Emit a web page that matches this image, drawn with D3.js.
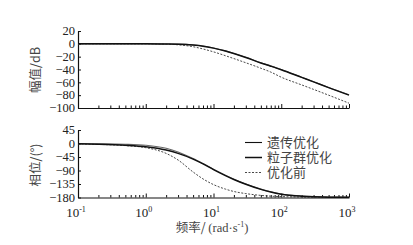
<!DOCTYPE html>
<html>
<head>
<meta charset="utf-8">
<script src="https://cdn.jsdelivr.net/npm/d3@7"></script>
<style>
  body { margin: 0; background: #fff; }
  svg text { fill: #222; }
  .axis path, .axis line { stroke: #111; }
</style>
</head>
<body>
<div id="visualization"></div>
<script>
// frequency points (rad/s)
var freq = [0.1, 0.2, 0.5, 1, 2, 3, 5, 7, 10, 15, 20, 30, 50, 70, 100, 200, 300, 500, 1000];

// magnitude (dB)
var magGA     = [0, 0, 0, 0, -0.2, -0.5, -1.8, -3.5, -6.5, -11, -15, -21, -29.5, -34.5, -40, -52, -59, -68, -79.5];
var magPSO    = [0, 0, 0, 0, -0.2, -0.5, -1.9, -3.6, -6.7, -11.2, -15.2, -21.3, -29.8, -34.8, -40.3, -52.3, -59.3, -68.3, -80];
var magBefore = [0, 0, 0, 0, -0.5, -1.5, -4.5, -8, -12.5, -18.5, -23, -29.5, -38, -44, -52, -64, -71, -80, -92.5];

// phase (deg)
var phGA     = [-0.5, -1, -2.5, -6, -16, -28, -50, -67, -86, -106, -119, -135, -152, -161, -168.5, -175, -177, -178.5, -179.5];
var phPSO    = [-1, -2.5, -6, -11, -22, -33, -52, -68, -87, -107, -120, -136, -153, -162, -169, -175.5, -177.5, -179, -179.5];
var phBefore = [-1.5, -3, -7, -14, -33, -55, -95, -118, -137, -152, -160, -167, -173, -175.5, -177, -178.5, -179, -179.5, -180];

var magTicks = [20, 0, -20, -40, -60, -80, -100];
var phTicks = [45, 0, -45, -90, -135, -180];
var decades = [-1, 0, 1, 2, 3];

var legendNames = ["遗传优化", "粒子群优化", "优化前"];

var width = 413, height = 245;
var left = 78, right = 349;

var svg = d3.select("#visualization").append("svg")
    .attr("width", width)
    .attr("height", height);

var serif = "'Liberation Serif', 'Times New Roman', serif";
var cjk = "'Noto Sans CJK SC', sans-serif";
// latin primary font keeps the legend line boxes compact, CJK glyphs fall back
var legendFont = "'Liberation Serif', 'Noto Sans CJK SC', serif";

var x = d3.scaleLog().domain([0.1, 1000]).range([left, right]);
var yMag = d3.scaleLinear().domain([-100, 20]).range([108, 31]);
var yPh = d3.scaleLinear().domain([-180, 45]).range([197.5, 130]);

// all log ticks, majors labelled separately
var xTicks = [];
decades.forEach(function (d) {
    for (var k = 1; k <= 9; k++) {
        if (d === 3 && k > 1) break;
        xTicks.push(k * Math.pow(10, d));
    }
});

function isMajor(v) {
    var l = Math.log10(v);
    return Math.abs(l - Math.round(l)) < 1e-9;
}

function drawXAxis(yPos, labels) {
    var g = svg.append("g")
        .attr("class", "axis")
        .attr("transform", "translate(0," + yPos + ")")
        .call(d3.axisBottom(x).tickValues(xTicks).tickSizeInner(-4).tickSizeOuter(0).tickFormat(""));
    g.select(".domain").attr("stroke-width", 1.2);
    g.selectAll(".tick line")
        .attr("y2", function (d) { return isMajor(d) ? -4 : -2.5; });
    if (labels) {
        decades.forEach(function (d) {
            var t = svg.append("text")
                .attr("x", x(Math.pow(10, d)) - 2)
                .attr("y", yPos + 19)
                .attr("text-anchor", "middle")
                .style("font-family", serif)
                .style("font-size", "13px");
            t.append("tspan").text("10");
            t.append("tspan").attr("dy", -5).style("font-size", "8px").text(d);
        });
    }
}

function drawYAxis(scale, ticks) {
    var g = svg.append("g")
        .attr("class", "axis")
        .attr("transform", "translate(" + left + ",0)")
        .call(d3.axisLeft(scale).tickValues(ticks).tickSizeInner(-3).tickSizeOuter(0).tickPadding(3));
    g.select(".domain").attr("stroke-width", 1.2);
    g.selectAll(".tick text")
        .style("font-family", serif)
        .style("font-size", "12.5px")
        .attr("dy", "0.3em");
}

drawYAxis(yMag, magTicks);
drawXAxis(108, false);
drawYAxis(yPh, phTicks);
drawXAxis(197.5, true);

// axis titles
svg.append("text")
    .attr("transform", "translate(40,70) rotate(-90)")
    .attr("text-anchor", "middle")
    .style("font-family", cjk)
    .style("font-size", "12.5px")
    .style("fill", "#444")
    .text("幅值/dB");

svg.append("text")
    .attr("transform", "translate(40,165) rotate(-90)")
    .attr("text-anchor", "middle")
    .style("font-family", cjk)
    .style("font-size", "12.5px")
    .style("fill", "#444")
    .text("相位/(°)");

var xt = svg.append("text")
    .attr("x", 212)
    .attr("y", 232)
    .attr("text-anchor", "middle")
    .style("font-size", "12.5px")
    .style("fill", "#444");
xt.append("tspan").style("font-family", cjk).text("频率/ ");
xt.append("tspan").style("font-family", serif).text("(rad·s");
xt.append("tspan").style("font-family", serif).attr("dy", -5).style("font-size", "8px").text("-1");
xt.append("tspan").style("font-family", serif).attr("dy", 5).text(")");

// curves
var series = [
    { mag: magBefore, ph: phBefore, color: "#333", w: 0.9, dash: "2,1.5" },
    { mag: magGA, ph: phGA, color: "#666", w: 1.1, dash: null },
    { mag: magPSO, ph: phPSO, color: "#111", w: 1.5, dash: null }
];

function curve(yScale) {
    return d3.line()
        .x(function (d, i) { return x(freq[i]); })
        .y(function (d) { return yScale(d); })
        .curve(d3.curveMonotoneX);
}

series.forEach(function (s) {
    svg.append("path")
        .attr("d", curve(yMag)(s.mag))
        .attr("fill", "none")
        .attr("stroke", s.color)
        .attr("stroke-width", s.w)
        .attr("stroke-dasharray", s.dash);
    svg.append("path")
        .attr("d", curve(yPh)(s.ph))
        .attr("fill", "none")
        .attr("stroke", s.color)
        .attr("stroke-width", s.w)
        .attr("stroke-dasharray", s.dash);
});

// legend
var legendStyles = [
    { color: "#111", w: 1.1, dash: null },
    { color: "#111", w: 1.5, dash: null },
    { color: "#333", w: 0.9, dash: "2,1.5" }
];
legendNames.forEach(function (name, i) {
    var ly = 142.5 + i * 15;
    svg.append("line")
        .attr("x1", 245).attr("x2", 262)
        .attr("y1", ly).attr("y2", ly)
        .attr("stroke", legendStyles[i].color)
        .attr("stroke-width", legendStyles[i].w)
        .attr("stroke-dasharray", legendStyles[i].dash);
    svg.append("text")
        .attr("x", 267)
        .attr("y", ly + 4.5)
        .style("font-family", legendFont)
        .style("font-size", "13px")
        .style("fill", "#444")
        .text(name);
});
</script>
</body>
</html>
